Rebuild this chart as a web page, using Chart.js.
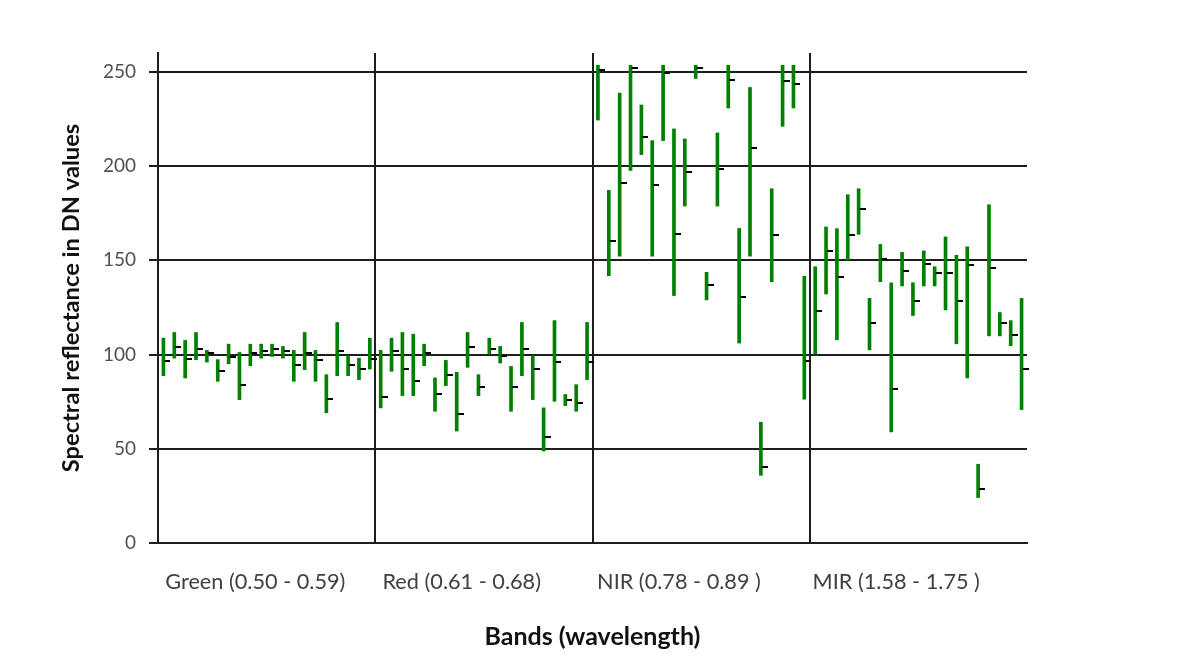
<!DOCTYPE html>
<html>
<head>
<meta charset="utf-8">
<script src="https://cdn.jsdelivr.net/npm/chart.js@4.4.0/dist/chart.umd.min.js"></script>
<style>
  html, body { margin: 0; padding: 0; background: #ffffff; }
  #c { display: block; }
</style>
</head>
<body>
<canvas id="c" width="1203" height="656"></canvas>
<script>
// Spectral bands and the 20 sampled pixels measured in each band
const bandNames = ['Green (0.50 - 0.59)', 'Red (0.61 - 0.68)', 'NIR (0.78 - 0.89 )', 'MIR (1.58 - 1.75 )'];
const samplesPerBand = 20;
const categories = bandNames.flatMap(b => Array.from({ length: samplesPerBand }, (_, k) => b + ' #' + (k + 1)));

// DN range (high / low) and mean value for every sample
const highValues = [
  108.7, 111.7, 107.5, 111.7, 102.2, 97.3, 105.5, 101.1, 105.5, 105.5, 105.5, 104.3, 102.2, 111.7, 102.2, 89.3, 117.0, 99.4, 98.1, 108.7,
  102.2, 108.7, 111.7, 110.8, 105.5, 87.6, 96.9, 90.6, 111.7, 89.3, 108.7, 104.3, 93.7, 117.0, 99.4, 71.7, 118.0, 78.8, 84.0, 117.0,
  253.5, 187.1, 238.7, 253.5, 232.4, 213.5, 253.5, 219.7, 214.4, 253.5, 143.6, 217.6, 253.5, 166.9, 241.7, 64.1, 188.0, 253.5, 253.5, 141.5,
  146.6, 167.7, 166.8, 184.8, 188.0, 129.8, 158.4, 138.1, 154.2, 138.1, 155.0, 146.6, 162.4, 152.7, 157.2, 41.8, 179.5, 122.3, 118.0, 129.8
];
const lowValues = [
  88.8, 98.1, 87.6, 97.3, 96.0, 85.8, 95.1, 76.1, 94.1, 98.1, 99.0, 98.1, 85.8, 92.0, 85.8, 69.1, 88.8, 88.8, 86.7, 92.3,
  71.7, 91.1, 78.2, 78.2, 94.1, 69.9, 83.5, 59.4, 93.2, 78.2, 100.2, 95.5, 69.9, 88.8, 76.1, 48.8, 75.2, 72.9, 69.9, 86.7,
  224.4, 141.8, 152.2, 197.7, 206.1, 152.2, 213.5, 131.3, 178.8, 246.5, 129.0, 178.8, 230.8, 106.1, 152.2, 35.9, 138.6, 221.1, 230.8, 76.3,
  100.2, 132.1, 107.8, 150.1, 163.8, 102.5, 138.7, 59.0, 136.4, 120.7, 136.4, 136.4, 123.7, 105.7, 87.6, 24.1, 109.9, 109.9, 104.7, 70.8
];
const meanValues = [
  96.4, 103.9, 97.6, 102.9, 100.8, 91.4, 98.7, 84.0, 100.8, 101.7, 102.9, 101.7, 94.6, 100.8, 97.3, 76.5, 101.7, 94.6, 92.3, 97.6,
  77.5, 102.0, 92.3, 86.2, 100.8, 78.8, 89.3, 68.5, 103.9, 82.8, 102.9, 99.0, 82.8, 102.9, 92.3, 56.4, 96.0, 76.1, 74.4, 95.8,
  251.1, 160.1, 191.0, 252.3, 215.3, 189.7, 249.3, 164.2, 197.1, 252.3, 136.9, 198.2, 245.8, 130.4, 209.8, 40.5, 163.3, 244.9, 243.8, 96.7,
  123.2, 155.0, 140.9, 163.3, 177.1, 116.6, 150.5, 81.7, 144.3, 128.4, 148.0, 143.1, 143.1, 128.4, 147.5, 28.9, 145.7, 116.6, 110.5, 92.3
];

// Y axis tick values
const yTickValues = [0, 50, 100, 150, 200, 250];
const yMax = 260;

// Small black marker to the right of each range bar (mean value)
const meanMarker = document.createElement('canvas');
meanMarker.width = 14;
meanMarker.height = 2;
(function () {
  const g = meanMarker.getContext('2d');
  g.fillStyle = '#000000';
  g.fillRect(8, 0, 6, 2);
})();

// Which slot inside each band carries the band's name
const labelSlot = [8, 7, 7, 7];
function bandLabel(index) {
  const band = Math.floor(index / samplesPerBand);
  return (index % samplesPerBand === labelSlot[band]) ? bandNames[band] : '';
}

const gridColor = '#1e1e1e';
const ranges = highValues.map((h, i) => [lowValues[i], h]);

new Chart(document.getElementById('c'), {
  type: 'bar',
  data: {
    labels: categories,
    datasets: [
      {
        type: 'line',
        data: meanValues,
        showLine: false,
        pointStyle: meanMarker,
        pointRadius: 4,
        order: 1
      },
      {
        type: 'bar',
        data: ranges,
        backgroundColor: '#008000',
        borderWidth: 0,
        barThickness: 3,
        grouped: false,
        order: 2
      }
    ]
  },
  options: {
    responsive: false,
    animation: false,
    events: [],
    layout: { padding: { left: 50, right: 176, top: 53, bottom: 0 } },
    plugins: { legend: { display: false }, tooltip: { enabled: false } },
    scales: {
      x: {
        type: 'category',
        offset: true,
        grid: {
          offset: true,
          drawTicks: false,
          lineWidth: 2,
          color: ctx => (ctx.index % samplesPerBand === 0 && ctx.index > 0 && ctx.index < categories.length) ? gridColor : 'rgba(0,0,0,0)'
        },
        border: { display: true, color: gridColor, width: 2 },
        ticks: {
          autoSkip: false,
          maxRotation: 0,
          minRotation: 0,
          padding: 26,
          labelOffset: 5,
          color: '#404040',
          font: { family: 'Lato', size: 21.7 },
          callback: (value, index) => bandLabel(index)
        },
        title: {
          display: true,
          text: 'Bands (wavelength)',
          color: '#111111',
          font: { family: 'Lato', size: 25, weight: 'bold' },
          padding: { top: 0, bottom: 4 }
        },
        afterFit: scale => { scale.height = 113; }
      },
      y: {
        type: 'linear',
        min: 0,
        max: yMax,
        afterBuildTicks: scale => { scale.ticks = yTickValues.map(v => ({ value: v })); },
        grid: { color: gridColor, lineWidth: 2, tickLength: 9, drawTicks: true },
        border: { display: true, color: gridColor, width: 2 },
        ticks: {
          padding: 13,
          color: '#505050',
          font: { family: 'Lato', size: 19 }
        },
        title: {
          display: true,
          text: 'Spectral reflectance in DN values',
          color: '#111111',
          font: { family: 'Lato', size: 23.7, weight: 'bold' },
          padding: { top: 7, bottom: 0 }
        },
        afterFit: scale => { scale.width = 108; }
      }
    }
  }
});
</script>
</body>
</html>
